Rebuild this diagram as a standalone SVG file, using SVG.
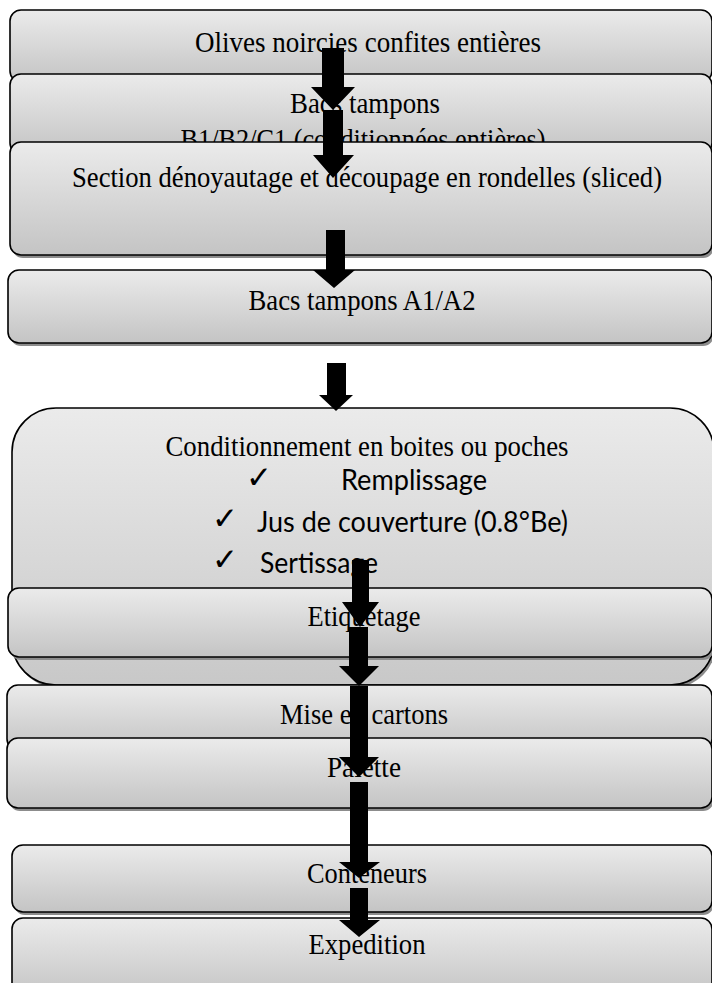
<svg xmlns="http://www.w3.org/2000/svg" width="712" height="983" viewBox="0 0 712 983">
<defs>
<linearGradient id="g" x1="0" y1="0" x2="0" y2="1">
<stop offset="0" stop-color="#ebebeb"/>
<stop offset="1" stop-color="#c4c4c4"/>
</linearGradient>
<linearGradient id="g2" x1="0" y1="0" x2="0" y2="1">
<stop offset="0" stop-color="#ebebeb"/>
<stop offset="1" stop-color="#c8c8c8"/>
</linearGradient>
</defs>
<style>
.box{fill:url(#g);stroke:#000;stroke-width:1.6}
.sh{fill:#8c8c8c}
.t{font-family:"Liberation Serif","Times New Roman",serif;font-size:28.5px;fill:#000;text-anchor:middle}
.s{font-family:Lato,"Noto Sans",sans-serif;font-size:28px;fill:#000}
.ck{font-family:"DejaVu Sans",sans-serif;font-size:31px;fill:#000}
.ar{fill:#000}
</style>
<rect width="712" height="983" fill="#fff"/>
<g id="n1">
<rect class="box" x="10" y="10" width="702" height="72" rx="11"/>
<text class="t" x="368" y="52" textLength="346" lengthAdjust="spacingAndGlyphs">Olives noircies confites entières</text>
</g>
<g id="n2">
<rect class="box" x="10" y="74" width="702" height="80" rx="11"/>
<text class="t" x="365" y="113" textLength="150" lengthAdjust="spacingAndGlyphs">Bacs tampons</text>
<text class="t" x="363" y="149" textLength="365" lengthAdjust="spacingAndGlyphs">B1/B2/C1 (conditionnées entières)</text>
</g>
<g id="n3">
<rect class="sh" x="12" y="145" width="702" height="113" rx="11"/>
<rect class="box" x="10" y="142" width="702" height="113" rx="11"/>
<text class="t" x="367" y="187" textLength="590" lengthAdjust="spacingAndGlyphs">Section dénoyautage et découpage en rondelles (sliced)</text>
</g>
<g id="n4">
<rect class="sh" x="10" y="273" width="704" height="73" rx="11"/>
<rect class="box" x="8" y="270" width="704" height="73" rx="11"/>
<text class="t" x="362" y="310" textLength="227" lengthAdjust="spacingAndGlyphs">Bacs tampons A1/A2</text>
</g>
<g id="n5">
<rect class="sh" x="14" y="411" width="702" height="277" rx="44"/>
<rect class="box" x="12" y="408" width="702" height="277" rx="44" style="fill:url(#g2)"/>
<text class="t" x="367" y="456" textLength="403" lengthAdjust="spacingAndGlyphs">Conditionnement en boites ou poches</text>
<text class="ck" x="246" y="488">✓</text>
<text class="s" x="341" y="490" textLength="146" lengthAdjust="spacingAndGlyphs">Remplissage</text>
<text class="ck" x="212" y="529">✓</text>
<text class="s" x="257" y="532" textLength="311" lengthAdjust="spacingAndGlyphs">Jus de couverture (0.8°Be)</text>
<text class="ck" x="212" y="570">✓</text>
<text class="s" x="260" y="573" textLength="118" lengthAdjust="spacingAndGlyphs">Sertissage</text>
</g>
<g id="n6">
<rect class="sh" x="10" y="591" width="704" height="69" rx="11"/>
<rect class="box" x="8" y="588" width="704" height="69" rx="11"/>
<text class="t" x="364" y="626" textLength="113" lengthAdjust="spacingAndGlyphs">Etiquetage</text>
</g>
<g id="n7">
<rect class="box" x="7" y="685" width="705" height="65" rx="11"/>
<text class="t" x="364" y="724" textLength="168" lengthAdjust="spacingAndGlyphs">Mise en cartons</text>
</g>
<g id="n8">
<rect class="sh" x="9" y="741" width="705" height="70" rx="11"/>
<rect class="box" x="7" y="738" width="705" height="70" rx="11"/>
<text class="t" x="364" y="777" textLength="74" lengthAdjust="spacingAndGlyphs">Palette</text>
</g>
<g id="n9">
<rect class="sh" x="14" y="848" width="700" height="67" rx="11"/>
<rect class="box" x="12" y="845" width="700" height="67" rx="11"/>
<text class="t" x="367" y="883" textLength="120" lengthAdjust="spacingAndGlyphs">Conteneurs</text>
</g>
<g id="n10">
<rect class="box" x="12" y="918" width="700" height="80" rx="11"/>
<text class="t" x="367" y="954" textLength="117" lengthAdjust="spacingAndGlyphs">Expedition</text>
</g>
<g id="connectors">
<polygon class="ar" points="322,48 344,48 344,87 355,87 333,110 311,87 322,87"/>
<polygon class="ar" points="323,110 343,110 343,155 354,155 333,178 313,155 323,155"/>
<polygon class="ar" points="326,230 345,230 345,270 355,270 334,288 313,270 326,270"/>
<polygon class="ar" points="327,363 346,363 346,395 353,395 336,411 319,395 327,395"/>
<polygon class="ar" points="352,560 369,560 369,602 379,602 360,627 342,602 352,602"/>
<polygon class="ar" points="349,627 368,627 368,666 379,666 359,686 339,666 349,666"/>
<polygon class="ar" points="350,686 368,686 368,757 379,757 359,777 339,757 350,757"/>
<polygon class="ar" points="350,782 368,782 368,862 380,862 359,878 339,862 350,862"/>
<polygon class="ar" points="350,888 368,888 368,920 380,920 359,937 339,920 350,920"/>
</g>
</svg>
